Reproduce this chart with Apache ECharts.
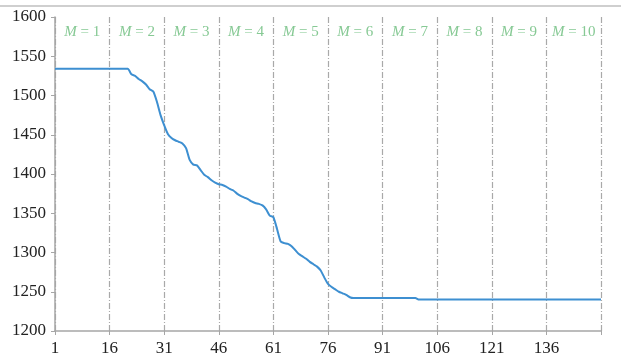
<!DOCTYPE html>
<html>
<head>
<meta charset="utf-8">
<script src="https://cdn.jsdelivr.net/npm/echarts@6/dist/echarts.min.js"></script>
<style>html,body{margin:0;padding:0;background:#fff}#c{width:621px;height:364px}</style>
</head>
<body>
<div id="c"></div>
<script>
// iterations 1..151
var iterations = [];
for (var k = 1; k <= 151; k++) iterations.push(String(k));

// objective values, one per iteration
var values = [
  1534,1534,1534,1534,1534,1534,1534,1534,1534,1534,
  1534,1534,1534,1534,1534,1534,1534,1534,1534,1534,
  1534,1527,1525,1521,1518,1514,1508,1505,1492,1475,
  1462,1451,1446,1443,1441,1439,1433,1418,1412,1411,
  1405,1399,1396,1392,1389,1387,1386,1384,1381,1379,
  1375,1372,1370,1368,1365,1363,1362,1360,1355,1347,
  1345,1330,1314,1312,1311,1308,1303,1298,1295,1292,
  1288,1285,1282,1277,1268,1260,1256,1253,1250,1248,
  1246,1243,1242,1242,1242,1242,1242,1242,1242,1242,
  1242,1242,1242,1242,1242,1242,1242,1242,1242,1242,
  1240,1240,1240,1240,1240,1240,1240,1240,1240,1240,
  1240,1240,1240,1240,1240,1240,1240,1240,1240,1240,
  1240,1240,1240,1240,1240,1240,1240,1240,1240,1240,
  1240,1240,1240,1240,1240,1240,1240,1240,1240,1240,
  1240,1240,1240,1240,1240,1240,1240,1240,1240,1240,
  1240
];

// segment boundaries and labels
var segStarts = ['1','16','31','46','61','76','91','106','121','136'];
var segEnds   = ['16','31','46','61','76','91','106','121','136','151'];
var segLabels = ['1','2','3','4','5','6','7','8','9','10'];
var hiddenTickLabels = ['151'];

var areas = segStarts.map(function (s, i) {
  return [{ xAxis: s, name: segLabels[i] }, { xAxis: segEnds[i] }];
});

var chart = echarts.init(document.getElementById('c'), null, { renderer: 'canvas' });
chart.setOption({
  animation: false,
  backgroundColor: '#fff',
  grid: { left: 55, right: 20, top: 17, bottom: 33, containLabel: false },
  graphic: [{
    type: 'rect', shape: { x: 0, y: 5, width: 621, height: 2 },
    style: { fill: '#cfcfcf' }, silent: true
  }],
  xAxis: {
    type: 'category',
    data: iterations,
    boundaryGap: false,
    axisLine: { lineStyle: { color: '#a6a6a6', width: 1.5 } },
    axisTick: { show: true, interval: 14, length: 4, lineStyle: { color: '#a6a6a6' } },
    axisLabel: {
      interval: 14, margin: 9,
      color: '#222', fontFamily: 'Liberation Serif', fontSize: 17,
      formatter: function (v) { return hiddenTickLabels.indexOf(v) >= 0 ? '' : v; }
    },
    splitLine: {
      show: true, interval: 14,
      lineStyle: { color: '#a9a9a9', width: 1.2, type: [6, 2, 1, 2] }
    }
  },
  yAxis: {
    type: 'value', min: 1200, max: 1600, interval: 50,
    axisLine: { show: true, lineStyle: { color: '#a6a6a6', width: 1.5 } },
    axisTick: { show: true, length: 4, lineStyle: { color: '#a6a6a6' } },
    axisLabel: {
      color: '#222', fontFamily: 'Liberation Serif', fontSize: 17, margin: 9,
      formatter: function (v) { return String(v); }
    },
    splitLine: { show: false }
  },
  series: [{
    type: 'line',
    data: values,
    showSymbol: false,
    symbol: 'none',
    smooth: 0.2,
    lineStyle: { color: '#3d8fd1', width: 2 },
    markArea: {
      silent: true,
      itemStyle: { color: 'rgba(0,0,0,0)' },
      label: {
        show: true, position: 'insideTop', distance: 8,
        formatter: function (p) { return '{i|M} = ' + p.name; },
        color: '#86c994', fontFamily: 'Liberation Serif', fontSize: 15,
        rich: { i: { fontStyle: 'italic', color: '#86c994', fontFamily: 'Liberation Serif', fontSize: 15 } }
      },
      data: areas
    }
  }]
});
</script>
</body>
</html>
